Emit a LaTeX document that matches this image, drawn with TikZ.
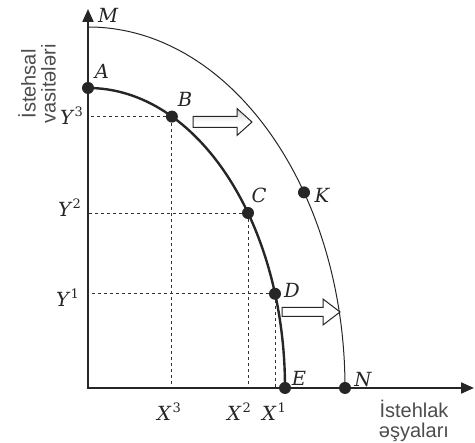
\documentclass[tikz,border=0pt]{standalone}
\usepackage{fontspec}
\newfontfamily\axisfont{Liberation Sans}
\newfontfamily\lblfont{DejaVu Serif}
\usetikzlibrary{arrows.meta}
\newcommand{\lsup}[2]{#1\kern1.5pt\raisebox{0.42em}{\upshape\fontsize{13}{13}\selectfont #2}}
\begin{document}
\begin{tikzpicture}[x=1pt,y=1pt,
  lbl/.style={font=\lblfont\fontsize{19.5}{21}\selectfont\itshape, inner sep=0pt, text=black!85, anchor=base},
  dot/.style={circle, fill=black!85, inner sep=0pt, minimum size=12pt},
  guide/.style={line width=0.9pt, dash pattern=on 3pt off 3pt, black!80},
  axisline/.style={line width=2pt, black!85},
  axistext/.style={font=\axisfont\fontsize{20}{20}\selectfont, text=black!70, align=center, inner sep=0pt},
  shiftarrow/.style={line width=1pt, draw=black!85, line join=miter}
]
\useasboundingbox (0,0) rectangle (475,443);
\coordinate (O) at (88,55);
\coordinate (ytop) at (88,434);
\coordinate (xend) at (474,55);
% axes
\draw[axisline, {Triangle[length=13pt,width=11pt]}-{Triangle[length=13pt,width=11pt]}] (ytop) -- (O) -- (xend);
% curves
\draw[line width=1pt, black!85] (88,416) arc[start angle=90, end angle=0, x radius=257, y radius=361];
\draw[line width=2.4pt, black!85] (88,355) arc[start angle=90, end angle=0, x radius=197, y radius=300];
% points
\node[dot] (A) at (88,355) {};
\node[dot] (B) at (171.9,326.4) {};
\node[dot] (C) at (248,230) {};
\node[dot] (D) at (275,149.2) {};
\node[dot] (E) at (285,55) {};
\node[dot] (N) at (345,55) {};
\node[dot] (K) at (304,250.6) {};
% guides
\draw[guide] (B) -- (B -| O);
\draw[guide] (B) -- (B |- O);
\draw[guide] (C) -- (C -| O);
\draw[guide] (C) -- (C |- O);
\draw[guide] (D) -- (D -| O);
\draw[guide] (D) -- (D |- O);
% labels
\node[lbl] (lM) at (108,420) {M};
\node[lbl] (lA) at (102,364) {A};
\node[lbl] (lB) at (185,336) {B};
\node[lbl] (lC) at (259,240) {C};
\node[lbl] (lD) at (292,145) {D};
\node[lbl] (lE) at (299,57) {E};
\node[lbl] (lN) at (363,56) {N};
\node[lbl] (lK) at (322,240) {K};
\node[lbl, anchor=base east] (lY3) at (83,318) {\lsup{Y}{3}};
\node[lbl, anchor=base east] (lY2) at (81,226) {\lsup{Y}{2}};
\node[lbl, anchor=base east] (lY1) at (79,136) {\lsup{Y}{1}};
\node[lbl] (lX3) at (169,22) {\lsup{X}{3}};
\node[lbl] (lX2) at (239,22) {\lsup{X}{2}};
\node[lbl] (lX1) at (274,22) {\lsup{X}{1}};
% axis titles
\node[axistext, rotate=90] (ytitle) at (37,359) {İstehsal\\vasitələri};
\node[axistext] (xtitle) at (414,22) {İstehlak\\əşyaları};
% shift arrows
\draw[shiftarrow, top color=blue!12!gray!35, bottom color=white, middle color=white]
  (193,315.5) -- (237,315.5) -- (237,307.5) -- (252,321) -- (237,334.5) -- (237,326.5) -- (193,326.5) -- cycle;
\draw[shiftarrow, fill=white]
  (282,126.5) -- (323,126.5) -- (323,118) -- (340,131) -- (323,144) -- (323,135.5) -- (282,135.5) -- cycle;
\end{tikzpicture}
\end{document}
